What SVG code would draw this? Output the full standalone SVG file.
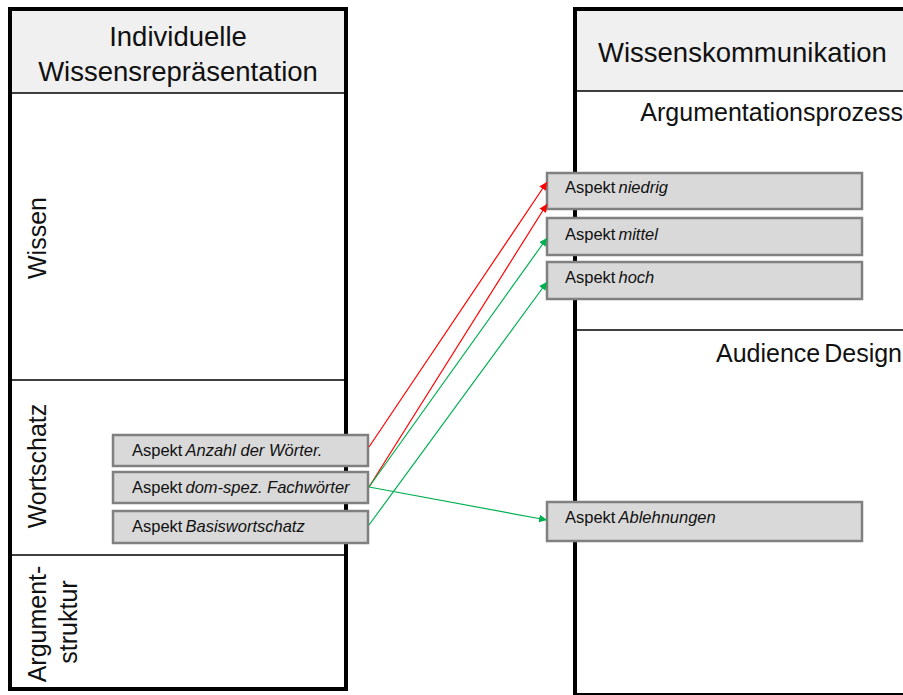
<svg xmlns="http://www.w3.org/2000/svg" width="903" height="695" viewBox="0 0 903 695">
<style>
.panel{fill:#ffffff;stroke:#000000;stroke-width:4}
.head{fill:#f0f0f0;stroke:none}
.sep{stroke:#000000;stroke-width:1.5}
.big{font-family:"Liberation Sans",Arial,sans-serif;font-size:27.5px;fill:#111111}
.mid{font-family:"Liberation Sans",Arial,sans-serif;font-size:25px;fill:#111111}
.box{fill:#d9d9d9;stroke:#808080;stroke-width:2.5}
.lbl{font-family:"Liberation Sans",Arial,sans-serif;font-size:16.5px;fill:#111111}
.it{font-style:italic}
.red{stroke:#ff0000;stroke-width:1.2;fill:none;marker-end:url(#ar)}
.grn{stroke:#00b050;stroke-width:1.2;fill:none;marker-end:url(#ag)}
</style>
<defs>
<marker id="ar" viewBox="0 0 10 10" refX="10" refY="5" markerWidth="8" markerHeight="8" markerUnits="userSpaceOnUse" orient="auto">
<path d="M0,0 L10,5 L0,10 z" fill="#ff0000"/>
</marker>
<marker id="ag" viewBox="0 0 10 10" refX="10" refY="5" markerWidth="8" markerHeight="8" markerUnits="userSpaceOnUse" orient="auto">
<path d="M0,0 L10,5 L0,10 z" fill="#00b050"/>
</marker>
</defs>
<rect width="903" height="695" fill="#ffffff"/>

<g id="panel-left">
<rect class="panel" x="10" y="9" width="336" height="680"/>
<rect class="head" x="12" y="11" width="332" height="82"/>
<line class="sep" x1="12" y1="93" x2="344" y2="93"/>
<line class="sep" x1="12" y1="380" x2="344" y2="380"/>
<line class="sep" x1="12" y1="555" x2="344" y2="555"/>
<text class="big" x="178" y="46" text-anchor="middle">Individuelle</text>
<text class="big" x="178" y="81" text-anchor="middle">Wissensrepräsentation</text>
<text class="mid" transform="translate(46,238) rotate(-90)" text-anchor="middle">Wissen</text>
<text class="mid" transform="translate(46,466) rotate(-90)" text-anchor="middle">Wortschatz</text>
<text class="mid" transform="translate(46,624) rotate(-90)" text-anchor="middle">Argument-</text>
<text class="mid" transform="translate(77,622) rotate(-90)" text-anchor="middle">struktur</text>
</g>

<g id="panel-right">
<rect class="panel" x="575" y="9" width="400" height="686"/>
<rect class="head" x="577" y="11" width="330" height="80"/>
<line class="sep" x1="577" y1="91" x2="903" y2="91"/>
<line class="sep" x1="577" y1="330" x2="903" y2="330"/>
<text class="big" x="598" y="62">Wissenskommunikation</text>
<text class="mid" x="903" y="121" text-anchor="end">Argumentationsprozess</text>
<text class="mid" x="902" y="362" text-anchor="end" word-spacing="-3">Audience Design</text>
</g>

<g id="node-anzahl">
<rect class="box" x="113" y="435" width="255" height="31"/>
<text class="lbl" x="132" y="456">Aspekt<tspan class="it" dx="3">Anzahl der Wörter.</tspan></text>
</g>
<g id="node-fachwoerter">
<rect class="box" x="113" y="472" width="255" height="31"/>
<text class="lbl" x="132" y="493">Aspekt<tspan class="it" dx="3">dom-spez. Fachwörter</tspan></text>
</g>
<g id="node-basis">
<rect class="box" x="113" y="511" width="255" height="32"/>
<text class="lbl" x="132" y="532">Aspekt<tspan class="it" dx="3">Basiswortschatz</tspan></text>
</g>

<g id="node-niedrig">
<rect class="box" x="547" y="173" width="315" height="36"/>
<text class="lbl" x="565" y="193">Aspekt<tspan class="it" dx="3">niedrig</tspan></text>
</g>
<g id="node-mittel">
<rect class="box" x="547" y="218" width="315" height="37"/>
<text class="lbl" x="565" y="240">Aspekt<tspan class="it" dx="3">mittel</tspan></text>
</g>
<g id="node-hoch">
<rect class="box" x="547" y="262" width="315" height="37"/>
<text class="lbl" x="565" y="283">Aspekt<tspan class="it" dx="3">hoch</tspan></text>
</g>
<g id="node-ablehnungen">
<rect class="box" x="547" y="502" width="315" height="39"/>
<text class="lbl" x="565" y="523">Aspekt<tspan class="it" dx="3">Ablehnungen</tspan></text>
</g>

<g id="connectors">
<line class="red" x1="369" y1="447" x2="547" y2="182"/>
<line class="red" x1="369" y1="487" x2="547" y2="204"/>
<line class="grn" x1="369" y1="487" x2="547" y2="238"/>
<line class="grn" x1="369" y1="525" x2="547" y2="282"/>
<line class="grn" x1="369" y1="487" x2="547" y2="520"/>
</g>
</svg>
